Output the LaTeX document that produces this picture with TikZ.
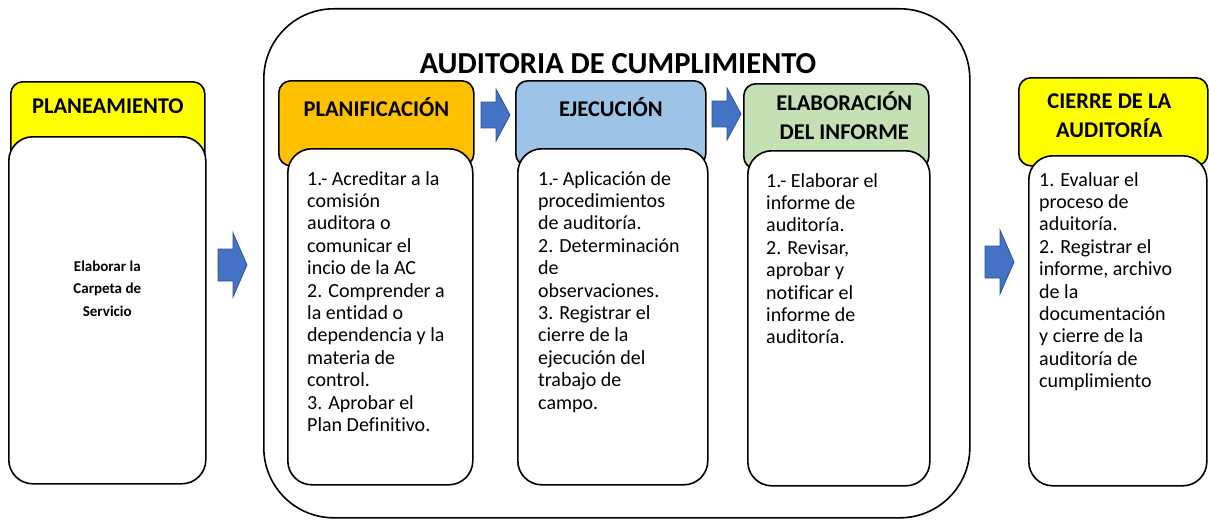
\documentclass[tikz,border=0pt]{standalone}
\usepackage{fontspec}
\setmainfont{Carlito}[Ligatures=NoCommon]
\usepackage{tikz}
\usetikzlibrary{positioning}
\definecolor{headyellow}{RGB}{255,255,0}
\definecolor{headorange}{RGB}{255,192,0}
\definecolor{headblue}{RGB}{157,195,230}
\definecolor{headgreen}{RGB}{197,224,180}
\definecolor{arrowblue}{RGB}{68,114,196}
\definecolor{arrowedge}{RGB}{47,82,143}

\begin{document}
\begin{tikzpicture}[line cap=round,line join=round,x=1pt,y=-1pt,
  headbox/.style={draw=black,line width=1.6pt,rounded corners=12pt,anchor=north west,inner sep=0pt},
  bodybox/.style={draw=black,fill=white,line width=1.6pt,rounded corners=24pt,anchor=north west,inner sep=0pt},
  headtext/.style={font=\fontsize{22.5}{29}\selectfont\bfseries,align=center,inner sep=0pt},
  listtext/.style={font=\fontsize{20}{22.4}\selectfont,align=left,anchor=north west,inner sep=0pt},
  blockarrow/.pic={\draw[fill=arrowblue,draw=arrowedge,line width=0.8pt,line join=miter] (0,-16) -- (15,-16) -- (15,-32) -- (29,0) -- (15,32) -- (15,16) -- (0,16) -- cycle;}]
\useasboundingbox (0,0) rectangle (1209,519);
\node[draw=black,line width=1.6pt,rounded corners=70pt,anchor=north west,inner sep=0pt,minimum width=706pt,minimum height=509pt] (auditbox) at (263,8) {};
\node[font=\fontsize{30.5}{36}\selectfont\bfseries] (audittitle) at (618,64) {AUDITORIA DE CUMPLIMIENTO};

\node[headbox,fill=headyellow,minimum width=194pt,minimum height=84pt] (planeamhead) at (10,81) {};
\node[bodybox,minimum width=197pt,minimum height=347pt] (planeambody) at (8,136) {};
\node[headtext] (planeamtitle) at ([yshift=-25.5pt]planeamhead.north) {PLANEAMIENTO};
\node[font=\fontsize{15}{22.5}\selectfont\bfseries,align=center] (planeamtext) at ([yshift=22pt]planeambody.center) {Elaborar la\\Carpeta de\\Servicio};

\node[headbox,fill=headorange,minimum width=195pt,minimum height=85pt] (planifhead) at (278,80) {};
\node[bodybox,minimum width=185pt,minimum height=336pt] (planifbody) at (287,148) {};
\node[headtext] (planiftitle) at ([yshift=-27pt]planifhead.north) {PLANIFICACIÓN};
\node[listtext] (planiftext) at (307,171) {1.- Acreditar a la\\comisión\\auditora o\\comunicar el\\incio de la AC\\2. Comprender a\\la entidad o\\dependencia y la\\materia de\\control.\\3. Aprobar el\\Plan Definitivo.};

\node[headbox,fill=headblue,minimum width=190pt,minimum height=85pt] (ejechead) at (515,80) {};
\node[bodybox,minimum width=190pt,minimum height=336pt] (ejecbody) at (517,148) {};
\node[headtext] (ejectitle) at ([yshift=-27pt]ejechead.north) {EJECUCIÓN};
\node[listtext] (ejectext) at (538,171) {1.- Aplicación de\\procedimientos\\de auditoría.\\2. Determinación\\de\\observaciones.\\3. Registrar el\\cierre de la\\ejecución del\\trabajo de\\campo.};

\node[headbox,fill=headgreen,minimum width=185pt,minimum height=85pt] (elabhead) at (743,83) {};
\node[bodybox,minimum width=182pt,minimum height=335pt] (elabbody) at (747,150) {};
\node[headtext] (elabtitle) at ([xshift=8pt,yshift=-33pt]elabhead.north) {ELABORACIÓN\\DEL INFORME};
\node[listtext] (elabtext) at (766,173) {1.- Elaborar el\\informe de\\auditoría.\\2. Revisar,\\aprobar y\\notificar el\\informe de\\auditoría.};

\node[headbox,fill=headyellow,minimum width=189pt,minimum height=88pt] (cierrehead) at (1018,77) {};
\node[bodybox,minimum width=178pt,minimum height=330pt] (cierrebody) at (1028,155) {};
\node[headtext] (cierretitle) at ([xshift=-4pt,yshift=-39pt]cierrehead.north) {CIERRE DE LA\\AUDITORÍA};
\node[listtext] (cierretext) at (1039,172) {1. Evaluar el\\proceso de\\aduitoría.\\2. Registrar el\\informe, archivo\\de la\\documentación\\y cierre de la\\auditoría de\\cumplimiento};

\pic at (218,265) {blockarrow};
\pic[yscale=0.81] at (481,115) {blockarrow};
\pic[yscale=0.81] at (712,114) {blockarrow};
\pic at (985,262) {blockarrow};
\end{tikzpicture}
\end{document}
